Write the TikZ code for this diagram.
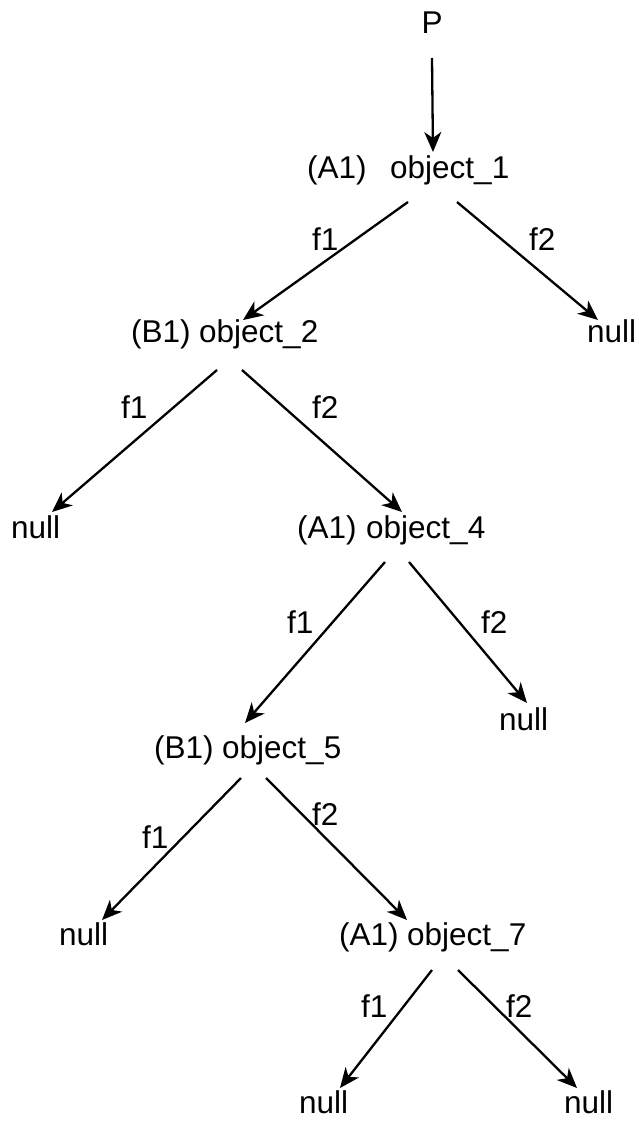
\documentclass[tikz,border=0pt]{standalone}
\usepackage{fontspec}
\setmainfont{Liberation Sans}
\usetikzlibrary{arrows.meta,calc}
\begin{document}
\begin{tikzpicture}[x=1pt,y=-1pt,
  txt/.style={inner sep=0pt,anchor=base west,font=\fontsize{31.5}{36}\selectfont},
  arr/.style={line width=2.3pt,-{Stealth[length=20pt,width=17pt,inset=6pt]}}]
\useasboundingbox (0,0) rectangle (639,1122);
% nodes
\node[txt,anchor=base] (P) at (432,33) {P};
\node[txt] (l1) at (307,178) {(A1)};
\node[txt] (o1) at (390,178) {object\_1};
\node[txt] (l2) at (131,342) {(B1)};
\node[txt] (o2) at (199,342) {object\_2};
\node[txt] (n1) at (587,342) {null};
\node[txt] (n2) at (11,538) {null};
\node[txt] (l4) at (297,538) {(A1)};
\node[txt] (o4) at (366,538) {object\_4};
\node[txt] (n3) at (499,730) {null};
\node[txt] (l5) at (154,758) {(B1)};
\node[txt] (o5) at (222,758) {object\_5};
\node[txt] (n4) at (59,945) {null};
\node[txt] (l7) at (339,945) {(A1)};
\node[txt] (o7) at (407,945) {object\_7};
\node[txt] (n5) at (299,1113) {null};
\node[txt] (n6) at (564,1113) {null};
% edge labels
\node[txt] (e1a) at (312,250) {f1};
\node[txt] (e1b) at (529,250) {f2};
\node[txt] (e2a) at (121,418) {f1};
\node[txt] (e2b) at (312,418) {f2};
\node[txt] (e4a) at (287,633) {f1};
\node[txt] (e4b) at (481,633) {f2};
\node[txt] (e5a) at (142,848) {f1};
\node[txt] (e5b) at (312,825) {f2};
\node[txt] (e7a) at (361,1017) {f1};
\node[txt] (e7b) at (506,1017) {f2};
% connectors
\draw[arr] ($(P.base)+(0,25)$) -- ($(o1.base west)+(43,-26)$);
\draw[arr] ($(o1.base west)+(18,24)$) -- ($(o2.base west)+(44,-22)$);
\draw[arr] ($(o1.base west)+(67,24)$) -- ($(n1.base west)+(11,-22)$);
\draw[arr] ($(o2.base west)+(18,28)$) -- ($(n2.base west)+(41,-26)$);
\draw[arr] ($(o2.base west)+(43,28)$) -- ($(o4.base west)+(36,-26)$);
\draw[arr] ($(o4.base west)+(19,24)$) -- ($(o5.base west)+(23,-35)$);
\draw[arr] ($(o4.base west)+(43,24)$) -- ($(n3.base west)+(28,-27)$);
\draw[arr] ($(o5.base west)+(19,20)$) -- ($(n4.base west)+(43,-25)$);
\draw[arr] ($(o5.base west)+(44,20)$) -- ($(o7.base west)+(0,-25)$);
\draw[arr] ($(o7.base west)+(25,25)$) -- ($(n5.base west)+(41,-25)$);
\draw[arr] ($(o7.base west)+(51,25)$) -- ($(n6.base west)+(13,-25)$);
\end{tikzpicture}
\end{document}
